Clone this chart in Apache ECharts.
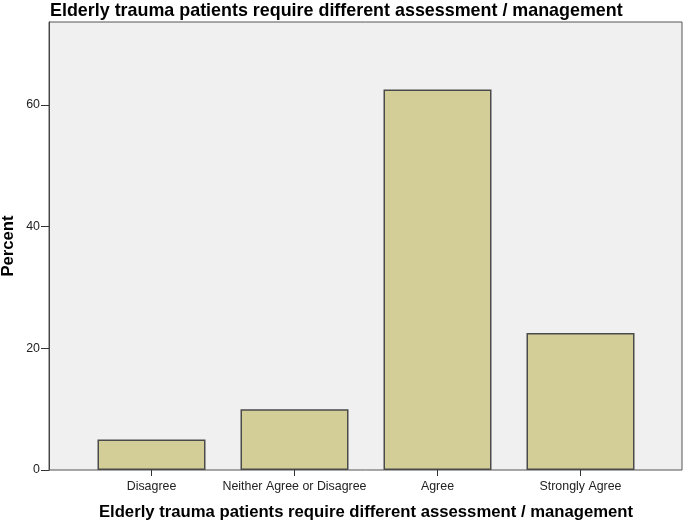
<!DOCTYPE html>
<html>
<head>
<meta charset="utf-8">
<script src="https://cdn.jsdelivr.net/npm/echarts@6/dist/echarts.min.js"></script>
<style>html,body{margin:0;padding:0;background:#fff;}#c{width:685px;height:522px;}</style>
</head>
<body>
<div id="c"></div>
<script>
var chartTitle = 'Elderly trauma patients require different assessment / management';
var categories = ['Disagree', 'Neither Agree or Disagree', 'Agree', 'Strongly Agree'];
var percentValues = [5.0, 10.0, 62.5, 22.5];
var yTickValues = [0, 20, 40, 60];
var yAxisName = 'Percent';
var xAxisName = 'Elderly trauma patients require different assessment / management';

var FONT = '"Liberation Sans", Arial, sans-serif';
var chart = echarts.init(document.getElementById('c'));
var yMax = 73.6;
chart.setOption({
  animation: false,
  backgroundColor: '#ffffff',
  title: {
    text: chartTitle,
    left: 50, top: 2, padding: 0,
    textStyle: { fontFamily: FONT, fontSize: 17.9, fontWeight: 'bold', color: '#000' }
  },
  grid: [
    { left: 49, top: 22, width: 633, height: 448, show: true, containLabel: false, outerBoundsMode: 'none',
      backgroundColor: '#F0F0F0', borderColor: '#555', borderWidth: 1 },
    { left: 80, top: 22, width: 572, height: 448, show: false, containLabel: false, outerBoundsMode: 'none' }
  ],
  xAxis: [
    { gridIndex: 0, type: 'value', show: false, min: 0, max: 1 },
    {
      gridIndex: 1, type: 'category', data: categories,
      axisLine: { show: false },
      axisTick: { show: true, alignWithLabel: true, length: 6, lineStyle: { color: '#333' } },
      axisLabel: { fontFamily: FONT, fontSize: 12.4, color: '#222', margin: 11, interval: 0 },
      name: xAxisName, nameLocation: 'middle', nameGap: 34, nameMoveOverlap: false,
      nameTextStyle: { fontFamily: FONT, fontSize: 16.7, fontWeight: 'bold', color: '#000' }
    }
  ],
  yAxis: [
    {
      gridIndex: 0, type: 'value', min: 0, max: yMax,
      axisLine: { show: true, lineStyle: { color: '#444' } },
      axisTick: { show: true, length: 8, customValues: yTickValues, lineStyle: { color: '#333' } },
      axisLabel: { fontFamily: FONT, fontSize: 12.4, color: '#222', margin: 9, customValues: yTickValues },
      splitLine: { show: false },
      name: yAxisName, nameLocation: 'middle', nameRotate: 90, nameGap: 32, nameMoveOverlap: false,
      nameTextStyle: { fontFamily: FONT, fontSize: 16.7, fontWeight: 'bold', color: '#000' }
    },
    { gridIndex: 1, type: 'value', min: 0, max: yMax, show: false }
  ],
  series: [{
    type: 'bar', xAxisIndex: 1, yAxisIndex: 1,
    data: percentValues,
    barWidth: 108,
    itemStyle: { color: '#D3CE97', borderColor: '#4a4a4a', borderWidth: 1.5 }
  }]
});
</script>
</body>
</html>
